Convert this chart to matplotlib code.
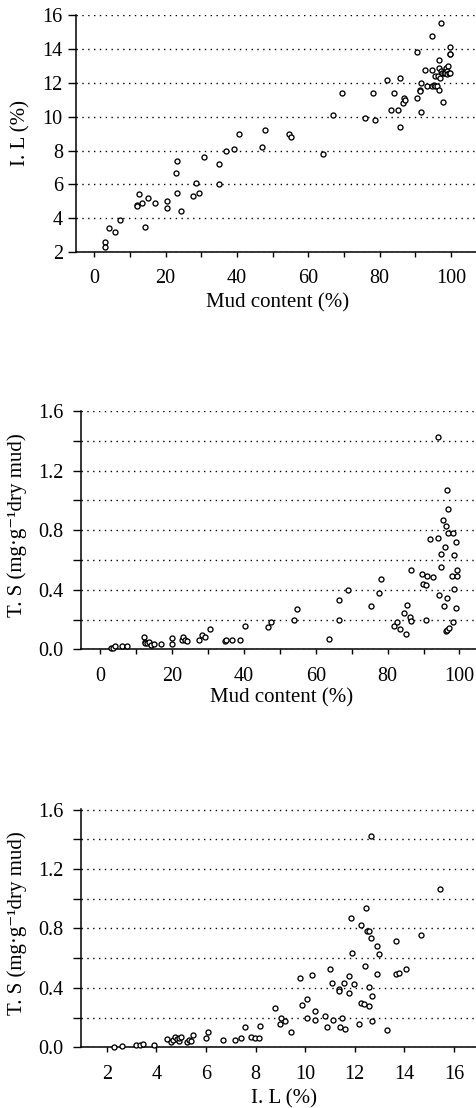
import numpy as np
import matplotlib
matplotlib.use("Agg")
import matplotlib.pyplot as plt

plt.rcParams['font.family'] = ['Liberation Serif', 'DejaVu Serif']

# panel 1: mud content vs I.L
mud1 = [3.0, 3.0, 4.0, 5.8, 7.3, 12.4, 12.1, 12.1, 13.5, 14.1, 15.0, 16.9, 20.3, 20.3,
        23.1, 22.9, 23.3, 24.2, 27.6, 28.5, 29.3, 30.7, 34.9, 35.0, 36.8, 39.2, 40.6,
        46.9, 47.9, 54.5, 55.2, 64.0, 66.8, 69.5, 75.9, 78.2, 78.6, 82.1, 83.1, 84.0,
        85.2, 85.7, 85.7, 86.6, 86.8, 87.1, 90.4, 90.4, 91.3, 91.3, 91.7, 91.7, 92.7,
        93.2, 94.7, 94.7, 94.6, 95.2, 95.6, 95.6, 96.2, 96.4, 96.5, 96.7, 96.7, 96.9,
        97.1, 97.3, 97.5, 97.7, 97.9, 98.2, 98.6, 98.8, 99.0, 99.2, 99.3, 99.6, 99.6,
        99.8, 99.8]
il1 = [2.6, 2.3, 3.4, 3.2, 3.9, 5.4, 4.8, 4.7, 4.9, 3.5, 5.2, 4.9, 5.0, 4.6,
       7.4, 6.7, 5.5, 4.4, 5.3, 6.1, 5.5, 7.6, 7.2, 6.0, 8.0, 8.1, 9.0,
       8.2, 9.2, 9.0, 8.8, 7.8, 10.1, 11.4, 9.9, 11.4, 9.8, 12.2, 10.4, 11.4,
       10.4, 9.4, 12.3, 10.8, 11.1, 11.0, 13.8, 11.1, 11.6, 11.5, 12.0, 10.3, 12.75,
       11.8, 14.75, 12.75, 11.8, 11.9, 12.4, 11.8, 11.8, 12.4, 13.35, 12.9, 11.6, 12.3,
       15.55, 12.7, 12.6, 10.9, 12.6, 12.6, 12.9, 12.7, 12.5, 13.0, 12.6, 12.6, 13.7,
       14.1, 13.7]

# panel 2: mud content vs T.S
mud2 = [3.1, 3.5, 4.3, 6.1, 7.4, 12.2, 12.4, 12.4, 13.0, 13.5, 14.1, 15.0, 17.0, 20.1,
        20.1, 22.8, 23.2, 23.6, 24.2, 27.6, 28.5, 29.3, 30.6, 34.9, 35.1, 36.6, 39.0,
        40.4, 46.8, 47.5, 54.1, 54.9, 63.7, 66.5, 66.5, 69.1, 75.4, 77.6, 78.1, 81.9,
        82.6, 83.5, 84.7, 85.2, 85.3, 86.1, 86.5, 86.5, 89.7, 89.8, 90.7, 90.7, 91.0,
        91.9, 92.6, 93.9, 94.1, 94.2, 94.8, 94.9, 95.5, 95.8, 96.0, 96.2, 96.2, 96.5,
        96.6, 96.8, 96.8, 96.6, 97.0, 97.9, 98.1, 98.2, 98.5, 98.6, 98.9, 99.1, 99.4,
        99.4]
ts2 = [0.01, 0.01, 0.02, 0.02, 0.02, 0.08, 0.05, 0.04, 0.045, 0.05, 0.03, 0.035, 0.035, 0.075,
       0.035, 0.06, 0.08, 0.06, 0.055, 0.06, 0.095, 0.08, 0.135, 0.055, 0.065, 0.065, 0.065,
       0.155, 0.15, 0.18, 0.195, 0.27, 0.07, 0.195, 0.33, 0.395, 0.29, 0.38, 0.47, 0.155,
       0.185, 0.135, 0.245, 0.105, 0.295, 0.215, 0.19, 0.53, 0.505, 0.44, 0.43, 0.2, 0.49,
       0.74, 0.485, 1.425, 0.75, 0.365, 0.64, 0.555, 0.87, 0.29, 0.69, 0.12, 0.83, 1.07,
       0.345, 0.94, 0.78, 0.13, 0.14, 0.495, 0.18, 0.78, 0.63, 0.405, 0.72, 0.28, 0.53,
       0.49]

# panel 3: I.L vs T.S
il3 = [2.31, 2.62, 3.18, 3.34, 3.48, 3.91, 4.42, 4.61, 4.69, 4.77, 4.83, 4.91, 4.93, 5.01,
       5.22, 5.30, 5.41, 5.49, 6.0, 6.08, 6.69, 7.19, 7.40, 7.59, 7.83, 7.99, 8.13, 8.18,
       8.79, 8.99, 9.01, 9.20, 9.42, 9.78, 9.87, 10.07, 10.09, 10.27, 10.38, 10.38, 10.80,
       10.89, 10.99, 11.08, 11.11, 11.38, 11.38, 11.40, 11.47, 11.58, 11.60, 11.78, 11.78,
       11.86, 11.88, 11.97, 12.18, 12.24, 12.26, 12.37, 12.40, 12.45, 12.48, 12.56, 12.59,
       12.59, 12.64, 12.67, 12.69, 12.69, 12.88, 12.88, 12.96, 13.29, 13.66, 13.66, 13.77,
       14.07, 14.66, 15.44]
ts3 = [0.0, 0.01, 0.015, 0.015, 0.025, 0.015, 0.055, 0.035, 0.05, 0.07, 0.055, 0.04, 0.065, 0.07,
       0.035, 0.05, 0.04, 0.08, 0.065, 0.1, 0.05, 0.05, 0.06, 0.135, 0.07, 0.065, 0.065, 0.145,
       0.265, 0.155, 0.195, 0.18, 0.105, 0.465, 0.285, 0.325, 0.195, 0.485, 0.245, 0.185, 0.21,
       0.135, 0.525, 0.435, 0.185, 0.395, 0.38, 0.135, 0.2, 0.43, 0.12, 0.48, 0.365,
       0.87, 0.635, 0.425, 0.155, 0.825, 0.295, 0.29, 0.55, 0.94, 0.785, 0.785, 0.405,
       0.275, 1.425, 0.735, 0.345, 0.175, 0.685, 0.495, 0.625, 0.115, 0.715, 0.49, 0.50,
       0.53, 0.755, 1.067]

ts_label = 'T. S (mg·g⁻¹dry mud)'

fig = plt.figure(figsize=(4.76, 11.08), dpi=100)
ax1 = fig.add_axes([0.1597, 0.7726, 0.8403, 0.2139])
ax2 = fig.add_axes([0.1702, 0.4140, 0.8298, 0.2153])
ax3 = fig.add_axes([0.1702, 0.0548, 0.8298, 0.2148])


def style(ax):
    for s in ['top', 'right']:
        ax.spines[s].set_visible(False)
    for s in ['left', 'bottom']:
        ax.spines[s].set_linewidth(1.1)
    ax.grid(axis='y', color='black', linestyle=(0, (1, 3.2)), linewidth=1.0)
    ax.set_axisbelow(True)
    ax.tick_params(axis='both', direction='out', width=1.0, labelsize=14.5)
    ax.tick_params(axis='y', length=5.5, pad=4)
    ax.tick_params(axis='x', length=3.5, pad=9)


def pts(ax, x, y):
    ax.plot(x, y, 'o', ms=3.6, mfc='white', mec='black', mew=0.95, clip_on=False, zorder=3)


# top
pts(ax1, mud1, il1)
style(ax1)
ax1.set_xlim(-5.13, 107.0)
ax1.set_ylim(2, 16.02)
ax1.set_yticks(np.arange(2, 17, 2))
ax1.set_xticks(np.arange(0, 101, 10))
ax1.set_xticklabels([str(v) if v % 20 == 0 else '' for v in range(0, 101, 10)])
ax1.set_xlabel('Mud content (%)', fontsize=15)
ax1.set_ylabel('I. L (%)', fontsize=15)
ax1.xaxis.set_label_coords(0.505, -0.175)
ax1.yaxis.set_label_coords(-0.113, 0.5)

# middle
ts_ticks = np.round(np.arange(0, 1.61, 0.2), 1)
ts_ticklabels = [f'{v:.1f}' if i % 2 == 0 else '' for i, v in enumerate(ts_ticks)]

pts(ax2, mud2, ts2)
style(ax2)
ax2.set_xlim(-5.29, 104.6)
ax2.set_ylim(0, 1.602)
ax2.set_yticks(ts_ticks)
ax2.set_yticklabels(ts_ticklabels)
ax2.tick_params(axis='y', pad=7)
ax2.set_xticks(np.arange(0, 101, 10))
ax2.set_xticklabels([str(v) if v % 20 == 0 else '' for v in range(0, 101, 10)])
ax2.set_xlabel('Mud content (%)', fontsize=15)
ax2.set_ylabel(ts_label, fontsize=15)
ax2.xaxis.set_label_coords(0.509, -0.163)
ax2.yaxis.set_label_coords(-0.138, 0.52)

# bottom
pts(ax3, il3, ts3)
style(ax3)
ax3.set_xlim(0.964, 16.89)
ax3.set_ylim(0, 1.602)
ax3.set_yticks(ts_ticks)
ax3.set_yticklabels(ts_ticklabels)
ax3.tick_params(axis='y', pad=7)
ax3.set_xticks(np.arange(2, 17, 2))
ax3.set_xlabel('I. L (%)', fontsize=15)
ax3.set_ylabel(ts_label, fontsize=15)
ax3.xaxis.set_label_coords(0.514, -0.178)
ax3.yaxis.set_label_coords(-0.138, 0.52)

fig.savefig('out.png', dpi=100)
